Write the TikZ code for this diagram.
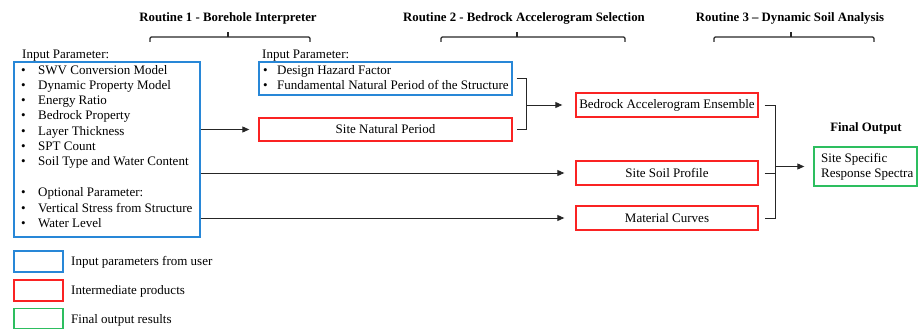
\documentclass[tikz,border=0pt]{standalone}
\usepackage{fontspec}
\setmainfont{Liberation Serif}
\usetikzlibrary{arrows.meta}
\definecolor{inblue}{RGB}{40,135,215}
\definecolor{midred}{RGB}{250,35,35}
\definecolor{outgreen}{RGB}{45,190,95}
\begin{document}
\begin{tikzpicture}[x=1pt,y=-1pt,
  txt/.style={inner sep=0pt, anchor=base west, font=\fontsize{13}{15.3}\selectfont},
  ctxt/.style={inner sep=0pt, font=\fontsize{13}{15.3}\selectfont},
  ttl/.style={inner sep=0pt, font=\fontsize{12.8}{15}\selectfont\bfseries},
  bluebox/.style={draw=inblue, line width=1.4pt, inner sep=0pt},
  redbox/.style={draw=midred, line width=1.4pt, inner sep=0pt, font=\fontsize{13}{15.3}\selectfont},
  greenbox/.style={draw=outgreen, line width=1.4pt, inner sep=0pt},
  conn/.style={line width=0.9pt, black!85},
  arr/.style={conn, -{Triangle[length=7pt,width=6pt]}},
  brace/.style={line width=1.2pt, black!85, rounded corners=1.2pt}]
\useasboundingbox (0,0) rectangle (918,329);

% titles
\node[ttl] (t1) at (228,18) {Routine 1 - Borehole Interpreter};
\node[ttl] (t2) at (524,18) {Routine 2 - Bedrock Accelerogram Selection};
\node[ttl] (t3) at (790,18) {Routine 3 -- Dynamic Soil Analysis};
% braces
\draw[brace] (150,42) -- (150,37) -- (310,37) -- (310,42);
\draw[brace] (228,37) -- (228,32);
\draw[brace] (441,42) -- (441,37) -- (625,37) -- (625,42);
\draw[brace] (517,37) -- (517,32);
\draw[brace] (714,42) -- (714,37) -- (874,37) -- (874,42);
\draw[brace] (791,37) -- (791,32);

% input box 1
\node[txt] (ipA) at (22,58.5) {Input Parameter:};
\node[bluebox, minimum width=186pt, minimum height=175pt] (inA) at (107,149.5) {};
\foreach \y/\t [count=\i] in {70/SWV Conversion Model, 85/Dynamic Property Model, 100/Energy Ratio, 115/Bedrock Property, 130.5/Layer Thickness, 146/SPT Count, 161/Soil Type and Water Content, 192/Optional Parameter:, 207.5/Vertical Stress from Structure, 223/Water Level}{
  \node[txt] (bA\i) at (21,\y+4.5) {•};
  \node[txt] (iA\i) at (38,\y+4.5) {\t};
}

% input box 2
\node[txt] (ipB) at (262,58.5) {Input Parameter:};
\node[bluebox, minimum width=253pt, minimum height=33pt] (inB) at (385.5,78.5) {};
\foreach \y/\t [count=\i] in {70/Design Hazard Factor, 85/Fundamental Natural Period of the Structure}{
  \node[txt] (bB\i) at (263,\y+4.5) {•};
  \node[txt] (iB\i) at (277,\y+4.5) {\t};
}

% intermediate products
\node[redbox, minimum width=253pt, minimum height=23pt] (snp) at (385.5,129.5) {Site Natural Period};
\node[redbox, minimum width=182pt, minimum height=24pt] (bae) at (667,105) {Bedrock Accelerogram Ensemble};
\node[redbox, minimum width=182pt, minimum height=24pt] (ssp) at (667,173) {Site Soil Profile};
\node[redbox, minimum width=182pt, minimum height=24pt] (mc) at (667,218) {Material Curves};

% final output
\node[ttl] (fot) at (866,128) {Final Output};
\node[greenbox, minimum width=103pt, minimum height=39pt] (fin) at (865.5,166.5) {};
\node[ctxt, anchor=west, align=left] (finT) at (821,166.5) {Site Specific\\Response Spectra};

% connectors
\draw[arr, shorten >=9pt] (inA.east |- snp) -- (snp.west);
\draw[arr, shorten >=11pt] (inA.east |- ssp) -- (ssp.west);
\draw[arr, shorten >=11pt] (inA.east |- mc) -- (mc.west);

\coordinate (j1) at (526,105);
\draw[conn] ([xshift=4pt]inB.east) -- (inB.east -| j1) -- (snp.east -| j1) -- ([xshift=4pt]snp.east);
\draw[arr, shorten >=13pt] (j1) -- (bae.west);

\coordinate (j2) at (775,166.5);
\draw[conn] ([xshift=6pt]bae.east) -- (bae.east -| j2) -- (mc.east -| j2) -- ([xshift=6pt]mc.east);
\draw[conn] ([xshift=6pt]ssp.east) -- (ssp.east -| j2);
\draw[arr, shorten >=9pt] (j2) -- (fin.west);

% legend
\node[bluebox, minimum width=49pt, minimum height=21pt] (lg1) at (38.5,261.5) {};
\node[redbox, minimum width=49pt, minimum height=21pt] (lg2) at (38.5,290.5) {};
\node[draw=outgreen, line width=1.4pt, inner sep=0pt, minimum width=49pt, minimum height=20pt] (lg3) at (38.5,318.5) {};
\node[txt] (lt1) at (71,265.5) {Input parameters from user};
\node[txt] (lt2) at (71,294.5) {Intermediate products};
\node[txt] (lt3) at (71,323) {Final output results};
\end{tikzpicture}
\end{document}
